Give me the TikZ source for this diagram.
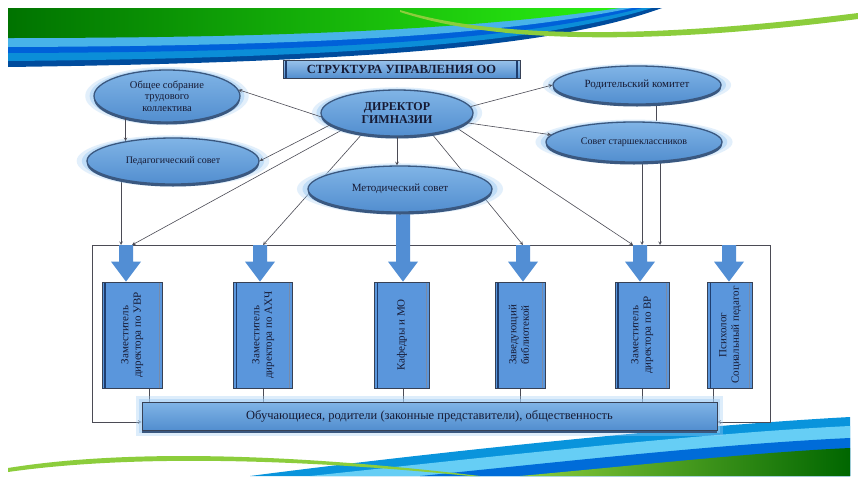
\documentclass[tikz,border=0pt]{standalone}
\usepackage{fontspec}
\setmainfont{Liberation Serif}
\usepackage{graphicx}
\usetikzlibrary{shapes.geometric,shadows,calc}
\definecolor{ellTop}{RGB}{128,180,230}
\definecolor{ellBot}{RGB}{82,142,207}
\definecolor{ellRim}{RGB}{58,88,128}
\definecolor{glowBlue}{RGB}{160,205,245}
\definecolor{boxBlue}{RGB}{90,150,220}
\definecolor{boxLine}{RGB}{55,65,85}
\definecolor{stripe}{RGB}{30,62,112}
\definecolor{arrBlue}{RGB}{82,142,212}
\definecolor{txtDark}{RGB}{22,26,52}
\definecolor{lineGray}{RGB}{75,75,85}
\definecolor{lime}{RGB}{140,205,60}
\pgfdeclarelayer{back}
\pgfdeclarelayer{bg}
\pgfsetlayers{back,bg,main}
\begin{document}
\begin{tikzpicture}[x=1pt,y=-1pt,>=stealth,
    ell/.style={ellipse,inner sep=0pt,top color=ellTop,bottom color=ellBot,
      draw=ellRim,line width=1.3pt,text=txtDark,align=center,
      font=\fontsize{10}{11}\selectfont,
      general shadow={fill=glowBlue,shadow scale=1.12,opacity=.3},
      general shadow={fill=glowBlue,shadow scale=1.06,opacity=.5},
      drop shadow={shadow xshift=0pt,shadow yshift=-2.5pt,fill=ellRim,opacity=1}},
    rbox/.style={rectangle,inner sep=0pt,minimum height=106pt,fill=boxBlue,
      draw=boxLine,line width=.8pt,text=txtDark,
      font=\fontsize{11}{12.5}\selectfont,
      path picture={\draw[stripe,line width=1.4pt]
        ([xshift=3pt]path picture bounding box.south west) --
        ([xshift=3pt]path picture bounding box.north west);
        \draw[stripe!60,line width=.8pt]
        ([xshift=-3pt]path picture bounding box.south east) --
        ([xshift=-3pt]path picture bounding box.north east);}},
    conn/.style={draw=lineGray,line width=.6pt},
    arrhead/.style={fill=arrBlue}]
\useasboundingbox (0,0) rectangle (858,482);
\begin{pgfonlayer}{back}
\fill[white] (0,0) rectangle (858,482);
% top swoosh
\fill[blue!45!black!70!cyan] (8,8) -- (662,8) .. controls (560,45) and (380,62) .. (8,67) -- cycle;
\fill[cyan!75!blue] (8,8) -- (652,8) .. controls (545,41) and (365,58) .. (8,61) -- cycle;
\fill[blue!55!cyan!85!black] (8,8) -- (642,8) .. controls (525,38) and (350,52) .. (8,53) -- cycle;
\fill[cyan!70!white!90!blue] (8,8) -- (632,8) .. controls (505,34) and (330,46) .. (8,47) -- cycle;
\shade[left color=green!45!black,right color=green!70!lime] (8,8) -- (620,8) .. controls (480,28) and (300,38) .. (8,38) -- cycle;
\fill[lime] (400,10) .. controls (500,40) and (660,38) .. (858,13) -- (858,19) .. controls (660,44) and (500,45) .. (400,12) -- cycle;
% bottom swoosh
\fill[cyan!80!blue] (850,476) -- (850,417) .. controls (700,425) and (450,450) .. (250,476) -- cycle;
\fill[cyan!60!white] (850,476) -- (850,426) .. controls (700,433) and (480,458) .. (310,476) -- cycle;
\fill[blue!50!cyan!85!black] (850,476) -- (850,438) .. controls (720,444) and (560,462) .. (420,476) -- cycle;
\shade[left color=lime,right color=green!40!black] (850,476) -- (850,448) .. controls (760,452) and (640,465) .. (520,476) -- cycle;
\fill[lime] (8,468) .. controls (120,450) and (280,452) .. (480,476) -- (470,476) .. controls (280,457) and (120,456) .. (8,472) -- cycle;
\end{pgfonlayer}

% title
\node[rectangle,minimum width=237pt,minimum height=18pt,inner sep=0pt,
  top color=ellTop!80!white,bottom color=ellBot,draw=boxLine,line width=.8pt,
  text=txtDark,font=\fontsize{12.5}{13}\selectfont\bfseries,
  path picture={\draw[stripe,line width=1.4pt]
    ([xshift=3pt]path picture bounding box.south west) --
    ([xshift=3pt]path picture bounding box.north west);
    \draw[stripe,line width=1.4pt]
    ([xshift=-3pt]path picture bounding box.south east) --
    ([xshift=-3pt]path picture bounding box.north east);}]
  (title) at (401.5,69) {СТРУКТУРА УПРАВЛЕНИЯ ОО};

% councils
\node[ell,minimum width=146pt,minimum height=52pt,font=\fontsize{10.5}{11.5}\selectfont]
  (obsh) at (167,96) {Общее собрание\\трудового\\коллектива};
\node[ell,minimum width=172pt,minimum height=46pt,font=\fontsize{10}{11}\selectfont]
  (ped) at (173,161) {Педагогический совет};
\node[ell,minimum width=152pt,minimum height=46pt,font=\fontsize{12}{13}\selectfont\bfseries]
  (dir) at (397,113) {ДИРЕКТОР\\ГИМНАЗИИ};
\node[ell,minimum width=184pt,minimum height=46pt,font=\fontsize{11}{12}\selectfont]
  (met) at (400,189) {Методический совет};
\node[ell,minimum width=168pt,minimum height=38pt,font=\fontsize{11}{12}\selectfont]
  (rod) at (637,85) {Родительский комитет};
\node[ell,minimum width=176pt,minimum height=40pt]
  (sov) at (634,142) {Совет старшеклассников};

% deputies
\node[rbox,minimum width=60pt] (uvr) at (132,335)
  {\rotatebox{90}{\begin{tabular}{@{}c@{}}Заместитель\\директора по УВР\end{tabular}}};
\node[rbox,minimum width=59pt] (ahch) at (263,335)
  {\rotatebox{90}{\begin{tabular}{@{}c@{}}Заместитель\\директора по АХЧ\end{tabular}}};
\node[rbox,minimum width=55pt] (kaf) at (402,335)
  {\rotatebox{90}{Кафедры и МО}};
\node[rbox,minimum width=50pt] (bib) at (520,335)
  {\rotatebox{90}{\begin{tabular}{@{}c@{}}Заведующий\\библиотекой\end{tabular}}};
\node[rbox,minimum width=54pt] (vr) at (642,335)
  {\rotatebox{90}{\begin{tabular}{@{}c@{}}Заместитель\\директора по ВР\end{tabular}}};
\node[rbox,minimum width=45pt] (psy) at (730,335)
  {\rotatebox{90}{\begin{tabular}{@{}c@{}}Психолог\\Социальный педагог\end{tabular}}};

% pupils
\node[rectangle,minimum width=575pt,minimum height=28pt,inner sep=0pt,
  top color=ellTop,bottom color=ellBot,draw=boxLine,line width=.8pt,
  text=txtDark,font=\fontsize{12.5}{13}\selectfont,
  preaction={draw=glowBlue,line width=12pt,opacity=.35},
  preaction={draw=glowBlue,line width=6pt,opacity=.5},
  drop shadow={shadow xshift=0pt,shadow yshift=-3pt,fill=ellRim,opacity=1}]
  (pupils) at (429.5,416) {Обучающиеся, родители (законные представители), общественность};

\coordinate (btl) at (92,245);
\coordinate (btr) at (770,245);

% arrows into the councils
\draw[conn,->] (dir.183) -- (obsh.5);
\draw[conn,->] (dir.190) -- (ped.east);
\draw[conn,->] (dir.south) -- (dir.south |- met.north);
\draw[conn,->] (dir.5) -- (rod.west);
\draw[conn,->] (dir.352) -- (sov.175);
\draw[conn,->] (obsh.208) -- (obsh.208 |- ped.157);

\begin{pgfonlayer}{bg}
\draw[conn,->] (dir.197) -- (uvr.north |- btl);
\draw[conn,->] (dir.211) -- (ahch.north |- btl);
\draw[conn,->] (dir.329) -- ([xshift=3pt]bib.north |- btl);
\draw[conn,->] (dir.346) -- ([xshift=-9pt]vr.north |- btl);
\draw[conn,->] (ped.200) -- (ped.200 |- btl);
\draw[conn] (rod.316) -- (rod.316 |- sov.north);
\draw[conn,->] ([xshift=8pt]sov.south) -- ([xshift=8pt]sov.south |- btl);
\draw[conn,->] ([xshift=26pt]sov.south) -- ([xshift=26pt]sov.south |- btl);
% frame
\draw[conn] (btl) -- (btr);
\draw[conn,->] (btl) |- ([yshift=-6pt]pupils.west);
\draw[conn,->] (btr) |- ([yshift=-6pt]pupils.east);
\foreach \r/\dx in {uvr/17,ahch/0,kaf/1,bib/0,vr/0,psy/-17}
  \draw[conn] ([xshift=\dx pt]\r.south) -- ([xshift=\dx pt]\r.south |- pupils.north);
% block arrows
\foreach \r/\dx/\src in {uvr/-6/btl,ahch/-3/btl,kaf/1/met.south,bib/3/btl,vr/-2/btl,psy/-1/btl}
  \path let \p1=([xshift=\dx pt]\r.north), \p2=(\src) in
    [arrhead] (\x1-7pt,\y2) -- (\x1+7pt,\y2) -- (\x1+7pt,\y1+20pt) -- (\x1+15pt,\y1+20pt)
    -- (\x1,\y1) -- (\x1-15pt,\y1+20pt) -- (\x1-7pt,\y1+20pt) -- cycle;
\end{pgfonlayer}
\end{tikzpicture}
\end{document}
